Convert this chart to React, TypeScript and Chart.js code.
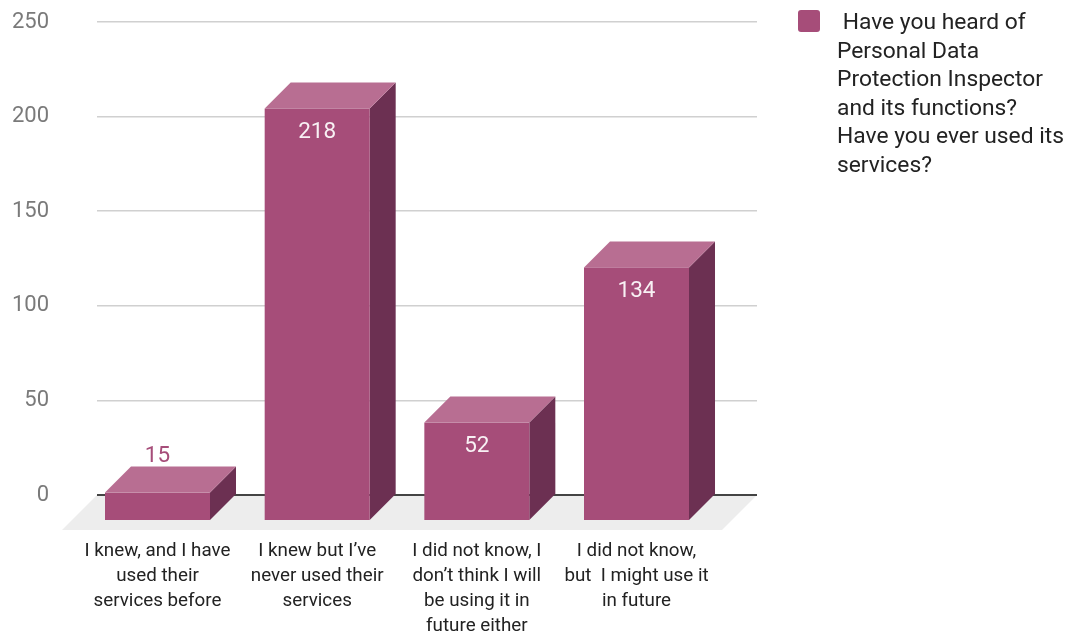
import React, { useEffect, useRef } from 'react';
import { Chart, registerables } from 'chart.js';

Chart.register(...registerables);

const CATEGORIES: string[][] = [
  ['I knew, and I have', 'used their', 'services before'],
  ['I knew but I’ve', 'never used their', 'services'],
  ['I did not know, I', 'don’t think I will', 'be using it in', 'future either'],
  ['I did not know,', 'but  I might use it', 'in future'],
];
const VALUES: number[] = [15, 218, 52, 134];
const Y_TICKS: number[] = [0, 50, 100, 150, 200, 250];
const SERIES_NAME = ' Have you heard of Personal Data Protection Inspector and its functions? Have you ever used its services?';
const LEGEND_LINES: string[] = [
  ' Have you heard of',
  'Personal Data',
  'Protection Inspector',
  'and its functions?',
  'Have you ever used its',
  'services?',
];

const FRONT = '#A64D79';
const TOP = '#B86E92';
const SIDE = '#6C3052';
const DEPTH = 26;
const FLOOR_DEPTH = 35;
const FONT = 'Roboto';

const threeDPlugin = {
  id: 'threeD',
  beforeDraw(chart: any) {
    const { ctx, chartArea, scales } = chart;
    const y0 = scales.y.getPixelForValue(0);
    ctx.save();
    ctx.fillStyle = '#ededed';
    ctx.beginPath();
    ctx.moveTo(chartArea.left, y0);
    ctx.lineTo(chartArea.right, y0);
    ctx.lineTo(chartArea.right - FLOOR_DEPTH, y0 + FLOOR_DEPTH);
    ctx.lineTo(chartArea.left - FLOOR_DEPTH, y0 + FLOOR_DEPTH);
    ctx.closePath();
    ctx.fill();
    ctx.restore();
  },
  afterDatasetsDraw(chart: any) {
    const { ctx } = chart;
    const meta = chart.getDatasetMeta(0);
    ctx.save();
    meta.data.forEach((bar: any, i: number) => {
      const { x, y, base, width } = bar.getProps(['x', 'y', 'base', 'width'], true);
      const L = x - width / 2;
      const R = x + width / 2;
      const d = DEPTH;
      // side face
      ctx.fillStyle = SIDE;
      ctx.beginPath();
      ctx.moveTo(R - d, y + d);
      ctx.lineTo(R, y);
      ctx.lineTo(R, base);
      ctx.lineTo(R - d, base + d);
      ctx.closePath();
      ctx.fill();
      // top face
      ctx.fillStyle = TOP;
      ctx.beginPath();
      ctx.moveTo(L - d, y + d);
      ctx.lineTo(L, y);
      ctx.lineTo(R, y);
      ctx.lineTo(R - d, y + d);
      ctx.closePath();
      ctx.fill();
      // front face
      ctx.fillStyle = FRONT;
      ctx.fillRect(L - d, y + d, width, base - y);

      // data label
      const v = VALUES[i];
      const cx = x - d;
      const h = base - y;
      ctx.font = `22.5px ${FONT}`;
      ctx.textAlign = 'center';
      ctx.textBaseline = 'middle';
      if (h > 45) {
        ctx.fillStyle = 'rgba(255,255,255,0.92)';
        ctx.fillText(String(v), cx, y + d + 24);
      } else {
        ctx.lineWidth = 3;
        ctx.strokeStyle = '#ffffff';
        ctx.strokeText(String(v), cx, y - 10);
        ctx.fillStyle = FRONT;
        ctx.fillText(String(v), cx, y - 10);
      }
    });
    ctx.restore();
  },
};

export default function App() {
  const canvasRef = useRef<HTMLCanvasElement | null>(null);

  useEffect(() => {
    document.body.style.margin = '0';
    const canvas = canvasRef.current;
    if (!canvas) return;
    const chart = new Chart(canvas, {
      type: 'bar',
      data: {
        datasets: [
          {
            label: SERIES_NAME,
            data: VALUES.map((v, i) => ({ x: i, y: v })) as any,
            backgroundColor: 'rgba(0,0,0,0)',
            borderWidth: 0,
            barThickness: 105,
          },
        ],
      },
      options: {
        responsive: false,
        animation: false,
        layout: { padding: { left: 0, top: 22, right: 315, bottom: 0 } },
        plugins: {
          legend: { display: false },
          tooltip: { enabled: false },
          title: { display: false },
        },
        scales: {
          x: {
            type: 'linear',
            min: -0.5418,
            max: 3.5918,
            offset: false,
            grid: { display: false, drawTicks: false },
            border: { display: false },
            afterBuildTicks: (axis: any) => {
              axis.ticks = CATEGORIES.map((_, i) => ({ value: i }));
            },
            afterFit: (axis: any) => {
              axis.height = 144;
              axis.paddingLeft = 0;
              axis.paddingRight = 0;
            },
            ticks: {
              autoSkip: false,
              maxRotation: 0,
              minRotation: 0,
              padding: 43.5,
              labelOffset: -DEPTH,
              color: '#222222',
              font: { family: FONT, size: 18.8, lineHeight: 1.33 },
              callback: (value: any) => CATEGORIES[Math.round(Number(value))] ?? '',
            },
          },
          y: {
            type: 'linear',
            min: 0,
            max: 250,
            afterBuildTicks: (axis: any) => {
              axis.ticks = Y_TICKS.map((v) => ({ value: v }));
            },
            afterFit: (axis: any) => {
              axis.width = 97;
              axis.paddingTop = 0;
              axis.paddingBottom = 0;
            },
            border: { display: false },
            grid: {
              drawTicks: false,
              color: (c: any) => (c.tick && c.tick.value === 0 ? '#444444' : '#d0d0d0'),
              lineWidth: (c: any) => (c.tick && c.tick.value === 0 ? 2 : 1.5),
            },
            ticks: {
              padding: 48,
              color: '#7a7a7a',
              font: { family: FONT, size: 22 },
            },
          },
        },
      },
      plugins: [threeDPlugin],
    });
    return () => chart.destroy();
  }, []);

  return (
    <div style={{ position: 'relative', width: 1072, height: 639, background: '#ffffff', fontFamily: FONT }}>
      <canvas ref={canvasRef} width={1072} height={639} style={{ position: 'absolute', left: 0, top: 0 }} />
      <div
        style={{
          position: 'absolute',
          left: 798,
          top: 10,
          width: 22,
          height: 22,
          borderRadius: 3,
          background: FRONT,
        }}
      />
      <div
        style={{
          position: 'absolute',
          left: 837,
          top: 8,
          fontSize: 22.8,
          lineHeight: '28.6px',
          color: '#222222',
          whiteSpace: 'pre',
        }}
      >
        {LEGEND_LINES.map((l, i) => (
          <div key={i}>{l}</div>
        ))}
      </div>
    </div>
  );
}
